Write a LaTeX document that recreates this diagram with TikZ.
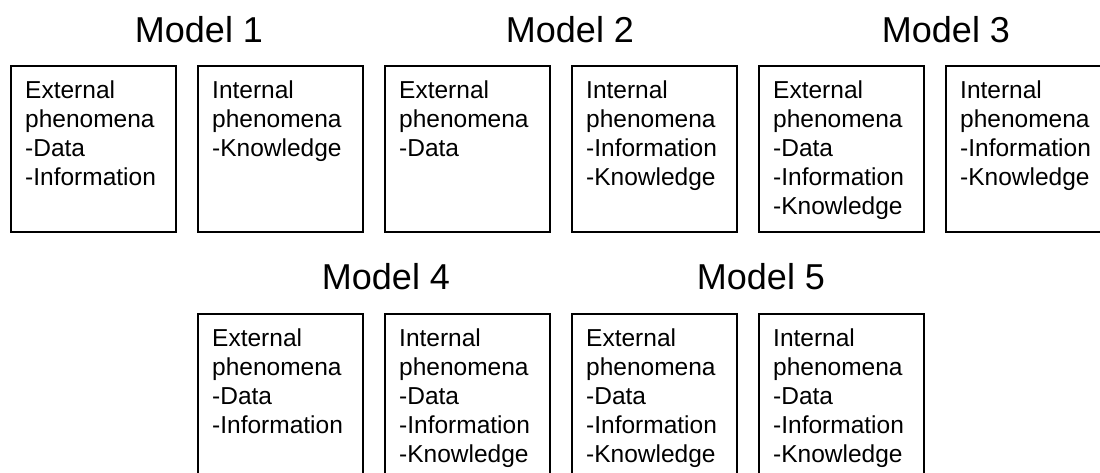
\documentclass[tikz,border=0pt]{standalone}
\usepackage{fontspec}
\setmainfont{Liberation Sans}
\usetikzlibrary{calc}
\begin{document}
\begin{tikzpicture}[x=1pt,y=-1pt,
  modelbox/.style={draw=black, line width=1.6pt, minimum width=165pt, minimum height=166pt, anchor=north west, inner sep=0pt},
  boxtext/.style={anchor=north west, inner sep=0pt, align=left, font=\fontsize{24.5}{28.8}\selectfont},
  title/.style={anchor=base, inner sep=0pt, font=\fontsize{36}{40}\selectfont}]
\useasboundingbox (0,0) rectangle (1100,473);
\clip (0,0) rectangle (1100,473);
% top row
\node[modelbox] (b1) at (10,65) {};
\node[modelbox] (b2) at (197,65) {};
\node[modelbox] (b3) at (384,65) {};
\node[modelbox] (b4) at (571,65) {};
\node[modelbox] (b5) at (758,65) {};
\node[modelbox] (b6) at (945,65) {};
% bottom row
\node[modelbox] (b7) at (197,313) {};
\node[modelbox] (b8) at (384,313) {};
\node[modelbox] (b9) at (571,313) {};
\node[modelbox] (b10) at (758,313) {};
% texts
\node[boxtext] (t1) at ($(b1.north west)+(15,16)$) {External\\phenomena\\-Data\\-Information};
\node[boxtext] (t2) at ($(b2.north west)+(15,16)$) {Internal\\phenomena\\-Knowledge};
\node[boxtext] (t3) at ($(b3.north west)+(15,16)$) {External\\phenomena\\-Data};
\node[boxtext] (t4) at ($(b4.north west)+(15,16)$) {Internal\\phenomena\\-Information\\-Knowledge};
\node[boxtext] (t5) at ($(b5.north west)+(15,16)$) {External\\phenomena\\-Data\\-Information\\-Knowledge};
\node[boxtext] (t6) at ($(b6.north west)+(15,16)$) {Internal\\phenomena\\-Information\\-Knowledge};
\node[boxtext] (t7) at ($(b7.north west)+(15,16)$) {External\\phenomena\\-Data\\-Information};
\node[boxtext] (t8) at ($(b8.north west)+(15,16)$) {Internal\\phenomena\\-Data\\-Information\\-Knowledge};
\node[boxtext] (t9) at ($(b9.north west)+(15,16)$) {External\\phenomena\\-Data\\-Information\\-Knowledge};
\node[boxtext] (t10) at ($(b10.north west)+(15,16)$) {Internal\\phenomena\\-Data\\-Information\\-Knowledge};
% titles
\node[title] (m1) at (199,43) {Model 1};
\node[title] (m2) at (570,43) {Model 2};
\node[title] (m3) at (946,43) {Model 3};
\node[title] (m4) at (386,289) {Model 4};
\node[title] (m5) at (761,289) {Model 5};
\end{tikzpicture}
\end{document}
